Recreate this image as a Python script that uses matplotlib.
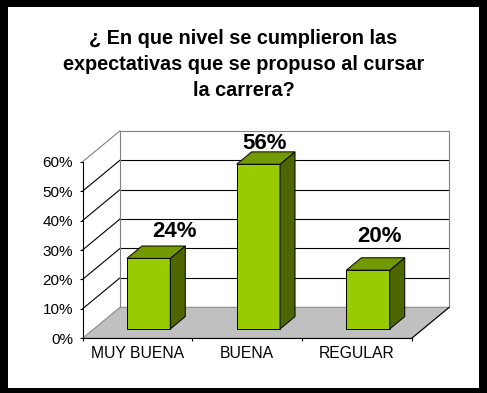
import matplotlib
matplotlib.use("Agg")
from matplotlib import pyplot as plt
from matplotlib.patches import Polygon, Rectangle
import numpy as np

plt.rcParams['font.family'] = ['Liberation Sans', 'DejaVu Sans']

title_lines = ['\u00bf En que nivel se cumplieron las',
               'expectativas que se propuso al cursar',
               'la carrera?']
categories = ['MUY BUENA', 'BUENA', 'REGULAR']
values = [24, 56, 20]
yticks = [0, 10, 20, 30, 40, 50, 60]
ytick_labels = ['0%', '10%', '20%', '30%', '40%', '50%', '60%']

# label nudges (category units, percent)
label_dx = [0.17, -0.01, 0.04]
label_dy = [3.0, 1.0, 5.5]

W, H = 487, 393
fig = plt.figure(figsize=(W / 100, H / 100), dpi=100, facecolor='black')
fig.patches.append(Rectangle((8 / W, 5 / H), 471 / W, 381 / H, transform=fig.transFigure,
                             facecolor='white', edgecolor='none', zorder=-5))

# front axis box in pixels
left, right, y0px, y60px = 82.5, 411.7, 338.3, 161.8
ax = fig.add_axes([left / W, (H - y0px) / H, (right - left) / W, (y0px - y60px) / H])
ax.set_xlim(-0.5, 2.5)
ax.set_ylim(0, 60)
ax.patch.set_alpha(0)

px_x = (right - left) / 3.0
px_y = (y0px - y60px) / 60.0
dxf = 37.5 / px_x   # depth offset in data units
dyf = 31.0 / px_y

grey = '#808080'
# floor
floor = Polygon([(-0.5, 0), (2.5, 0), (2.5 + dxf, dyf), (-0.5 + dxf, dyf)], closed=True,
                facecolor='#C0C0C0', edgecolor=grey, lw=0.7, clip_on=False, zorder=1)
ax.add_patch(floor)
ax.plot([2.5, 2.5 + dxf], [0, dyf], color='black', lw=0.8, clip_on=False, zorder=2)

# walls / gridlines
for v in yticks[1:]:
    c = grey if v == 60 else 'black'
    ax.plot([-0.5 + dxf, 2.5 + dxf], [v + dyf, v + dyf], color=c, lw=0.8, clip_on=False, zorder=1)
    ax.plot([-0.5, -0.5 + dxf], [v, v + dyf], color=c, lw=0.8, clip_on=False, zorder=1)
ax.plot([-0.5 + dxf, -0.5 + dxf], [dyf, 60 + dyf], color=grey, lw=0.8, clip_on=False, zorder=1)
ax.plot([2.5 + dxf, 2.5 + dxf], [dyf, 60 + dyf], color=grey, lw=0.8, clip_on=False, zorder=1)

# bars
d1, d2 = 0.3, 0.7
w = 0.395
front_c, side_c, top_c = '#99CC00', '#4D6600', '#739900'
ddx, ddy = (d2 - d1) * dxf, (d2 - d1) * dyf
xs = np.arange(len(values)) + d1 * dxf
base = d1 * dyf
ax.bar(xs, values, width=w, bottom=base, color=front_c, edgecolor='black', lw=0.7,
       zorder=3, clip_on=False)
for i, v in enumerate(values):
    x0, x1 = xs[i] - w / 2, xs[i] + w / 2
    y1 = base + v
    side = Polygon([(x1, base), (x1 + ddx, base + ddy), (x1 + ddx, y1 + ddy), (x1, y1)],
                   closed=True, facecolor=side_c, edgecolor='black', lw=0.7, zorder=3, clip_on=False)
    top = Polygon([(x0, y1), (x1, y1), (x1 + ddx, y1 + ddy), (x0 + ddx, y1 + ddy)],
                  closed=True, facecolor=top_c, edgecolor='black', lw=0.7, zorder=3, clip_on=False)
    ax.add_patch(side)
    ax.add_patch(top)
    ax.text(xs[i] + ddx / 2 + label_dx[i], y1 + ddy + label_dy[i], '%d%%' % v,
            ha='center', va='baseline', fontsize=16, fontweight='bold', zorder=4)

# axes
for s in ['top', 'right']:
    ax.spines[s].set_visible(False)
for s in ['left', 'bottom']:
    ax.spines[s].set_color('black')
    ax.spines[s].set_linewidth(0.8)
    ax.spines[s].set_zorder(5)
ax.set_yticks(yticks)
ax.set_yticklabels(ytick_labels)
ax.tick_params(axis='y', direction='out', length=2.5, width=0.8, pad=4.3, labelsize=11)
ax.set_xticks([-0.5, 0.5, 1.5, 2.5])
ax.set_xticklabels([])
ax.set_xticks(range(len(categories)), minor=True)
ax.set_xticklabels(categories, minor=True)
ax.tick_params(axis='x', which='major', direction='out', length=2.5, width=0.8)
ax.tick_params(axis='x', which='minor', length=0, pad=5.5, labelsize=11.3)

# title
for k, line in enumerate(title_lines):
    fig.text(243.5 / W, 1 - (43.5 + 26.5 * k) / H, line, ha='center', va='baseline',
             fontsize=14.3, fontweight='bold')

fig.savefig('out.png', dpi=100, facecolor='black')
